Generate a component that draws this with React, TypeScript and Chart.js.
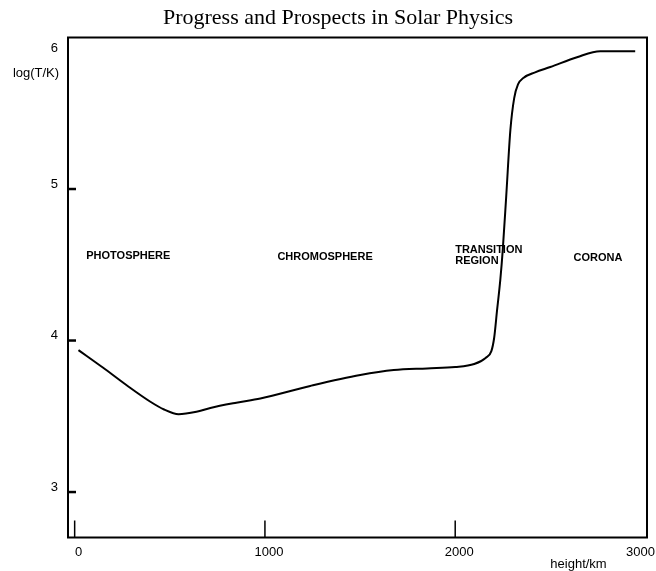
import React, { useEffect, useRef } from "react";
import { Chart, registerables } from "chart.js";

Chart.register(...registerables);

const titleText = "Progress and Prospects in Solar Physics";
const xAxisTitle = "height/km";
const yAxisTitle = "log(T/K)";

// temperature profile of the solar atmosphere
const heightKm = [20, 150, 275, 398, 470, 546, 640, 713, 850, 976, 1238, 1501, 1677, 1852, 2000, 2100, 2160, 2190, 2205, 2220, 2237, 2250, 2268, 2290, 2310, 2330, 2360, 2420, 2500, 2640, 2762, 2946];
const logT = [3.937, 3.82, 3.703, 3.596, 3.545, 3.514, 3.53, 3.555, 3.59, 3.618, 3.7, 3.772, 3.805, 3.816, 3.825, 3.845, 3.885, 3.93, 4.02, 4.2, 4.4, 4.6, 4.95, 5.39, 5.6, 5.69, 5.735, 5.77, 5.805, 5.87, 5.91, 5.91];

const xTickValues = [0, 1000, 2000, 3000];
const yTickValues = [3, 4, 5, 6];

// region labels (anchor in data coordinates)
const centeredNames = ["PHOTOSPHERE", "CHROMOSPHERE", "CORONA"];
const centeredX = [282, 1316, 2750];
const centeredY = [4.558, 4.553, 4.543];
const leftNames = ["TRANSITION", "REGION"];
const leftX = [2000, 2000];
const leftY = [4.6, 4.525];

const INK = "#000";

const decorPlugin = {
  id: "decor",
  afterDraw(chart: any) {
    const { ctx, chartArea } = chart;
    const xs = chart.scales.x;
    const ys = chart.scales.y;
    ctx.save();
    ctx.strokeStyle = INK;
    ctx.fillStyle = INK;
    // frame
    ctx.lineWidth = 2;
    ctx.strokeRect(chartArea.left, chartArea.top, chartArea.right - chartArea.left, chartArea.bottom - chartArea.top);
    // y ticks (inward)
    ctx.lineWidth = 2.5;
    yTickValues.forEach((v) => {
      const py = ys.getPixelForValue(v);
      if (Math.abs(py - chartArea.top) < 3) return;
      ctx.beginPath();
      ctx.moveTo(chartArea.left, py);
      ctx.lineTo(chartArea.left + 8, py);
      ctx.stroke();
    });
    // x ticks (inward)
    ctx.lineWidth = 1.5;
    xTickValues.forEach((v) => {
      const px = xs.getPixelForValue(v);
      if (Math.abs(px - chartArea.right) < 3) return;
      ctx.beginPath();
      ctx.moveTo(px, chartArea.bottom);
      ctx.lineTo(px, chartArea.bottom - 17);
      ctx.stroke();
    });
    // axis titles
    ctx.font = "13px 'Liberation Sans', Arial, sans-serif";
    ctx.textBaseline = "middle";
    ctx.textAlign = "center";
    ctx.fillText(yAxisTitle, 36, 73);
    ctx.fillText(xAxisTitle, 578.5, 564);
    // region labels
    ctx.font = "bold 11px 'Liberation Sans', Arial, sans-serif";
    centeredNames.forEach((n, i) => {
      ctx.textAlign = "center";
      ctx.fillText(n, xs.getPixelForValue(centeredX[i]), ys.getPixelForValue(centeredY[i]));
    });
    leftNames.forEach((n, i) => {
      ctx.textAlign = "left";
      ctx.fillText(n, xs.getPixelForValue(leftX[i]), ys.getPixelForValue(leftY[i]));
    });
    ctx.restore();
  },
};

export default function App() {
  const canvasRef = useRef<HTMLCanvasElement | null>(null);

  useEffect(() => {
    const canvas = canvasRef.current;
    if (!canvas) return;
    const tickFont = { family: "'Liberation Sans', Arial, sans-serif", size: 13 };
    const chart = new Chart(canvas, {
      type: "line",
      data: {
        datasets: [
          {
            data: heightKm.map((x, i) => ({ x, y: logT[i] })),
            borderColor: INK,
            borderWidth: 2,
            pointRadius: 0,
            fill: false,
            cubicInterpolationMode: "monotone",
          },
        ],
      },
      options: {
        animation: false,
        responsive: false,
        devicePixelRatio: 1,
        layout: { padding: { left: 29, right: 9, top: 0, bottom: 0 } },
        plugins: {
          legend: { display: false },
          tooltip: { enabled: false },
          title: {
            display: true,
            text: titleText,
            color: INK,
            font: { family: "'Liberation Serif', 'Times New Roman', serif", size: 22, weight: "normal" },
            padding: { top: 5, bottom: 6.1 },
          },
        },
        scales: {
          x: {
            type: "linear",
            min: -35,
            max: 3008,
            grid: { display: false, drawTicks: false },
            border: { display: false },
            ticks: {
              color: INK,
              font: tickFont,
              padding: 7,
              labelOffset: 4,
              maxRotation: 0,
              autoSkip: false,
              callback: (v: any) => (v === 3000 ? "3000     " : String(v)),
            },
            afterBuildTicks: (s: any) => {
              s.ticks = xTickValues.map((v) => ({ value: v }));
            },
            afterFit: (s: any) => {
              s.height = 33.5;
              s.paddingLeft = 0;
              s.paddingRight = 0;
            },
          },
          y: {
            type: "linear",
            min: 2.7,
            max: 6,
            grid: { display: false, drawTicks: false },
            border: { display: false },
            ticks: {
              color: INK,
              font: tickFont,
              padding: 10,
              labelOffset: -5,
              autoSkip: false,
              callback: (v: any) => (v === 6 ? ["", "", "6"] : String(v)),
            },
            afterBuildTicks: (s: any) => {
              s.ticks = yTickValues.map((v) => ({ value: v }));
            },
            afterFit: (s: any) => {
              s.width = 39;
              s.paddingTop = 0;
              s.paddingBottom = 0;
            },
          },
        },
      },
      plugins: [decorPlugin],
    } as any);
    return () => chart.destroy();
  }, []);

  return (
    <div style={{ position: "fixed", left: 0, top: 0, width: 656, height: 571, background: "#fff" }}>
      <canvas ref={canvasRef} width={656} height={571} style={{ display: "block" }} />
    </div>
  );
}
